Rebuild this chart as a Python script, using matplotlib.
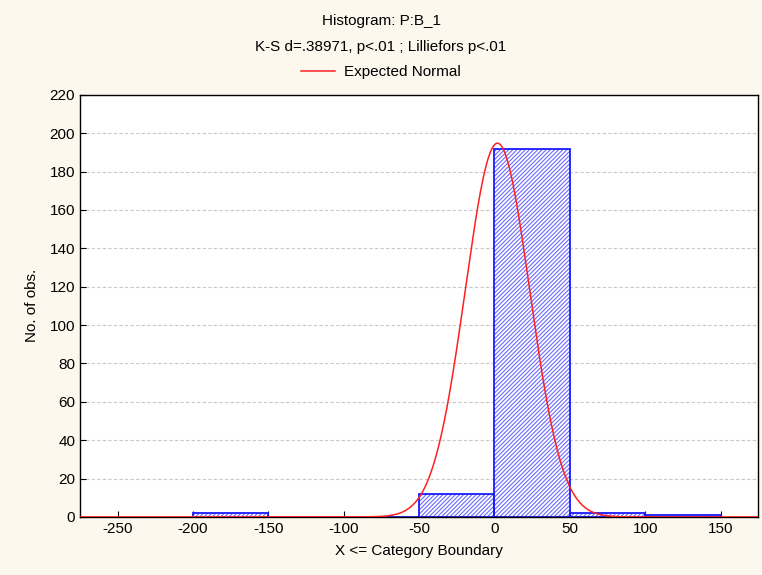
import numpy as np
import matplotlib
matplotlib.use("Agg")
import matplotlib.pyplot as plt

plt.rcParams['font.family'] = ['Liberation Sans', 'DejaVu Sans']
plt.rcParams['hatch.linewidth'] = 0.8
plt.rcParams['axes.unicode_minus'] = False

bin_left = [-200, -150, -100, -50, 0, 50, 100]
bin_width = 50
counts = [2, 0, 0, 12, 192, 2, 1]
normal_mean = 2.0
normal_sd = 21.4
n_total = 209

xticks = [-250, -200, -150, -100, -50, 0, 50, 100, 150]
yticks = list(range(0, 221, 20))

fig = plt.figure(figsize=(7.62, 5.75), dpi=100)
fig.patch.set_facecolor('#fdf8ee')
ax = fig.add_axes([0.105, 0.101, 0.89, 0.734])
ax.set_facecolor('white')

for yv in yticks[1:]:
    ax.axhline(yv, color='#c8c8c8', lw=0.8, ls=(0, (3, 2)), zorder=0)

# hatch layer
ax.bar(bin_left, counts, width=bin_width, align='edge', facecolor='white',
       edgecolor='#6a6aff', hatch='////////', linewidth=0, zorder=2)
# outline layer
ax.bar(bin_left, counts, width=bin_width, align='edge', facecolor='none',
       edgecolor='#1a1aff', linewidth=1.3, zorder=2.5)

xs = np.linspace(-275, 175, 800)
ys = n_total * bin_width / (normal_sd * np.sqrt(2 * np.pi)) * np.exp(-0.5 * ((xs - normal_mean) / normal_sd) ** 2)
line, = ax.plot(xs, ys, color='#ff2020', lw=1.1, zorder=3, label='Expected Normal')

ax.set_xlim(-275, 175)
ax.set_ylim(0, 220)
ax.set_xticks(xticks)
ax.set_yticks(yticks)
ax.tick_params(direction='in', length=4, labelsize=11, color='black')
for s in ax.spines.values():
    s.set_linewidth(1.0)
    s.set_color('black')

ax.set_xlabel('X <= Category Boundary', fontsize=11, labelpad=6)
ax.set_ylabel('No. of obs.', fontsize=11, labelpad=8)

fig.text(0.5, 1 - 21 / 575, 'Histogram: P:B_1', ha='center', va='center', fontsize=11)
fig.text(0.5, 1 - 47 / 575, 'K-S d=.38971, p<.01 ; Lilliefors p<.01', ha='center', va='center', fontsize=11)
fig.legend(handles=[line], loc='center', bbox_to_anchor=(0.5, 1 - 72 / 575), frameon=False,
           fontsize=11, handlelength=2.2, handletextpad=0.6)

fig.savefig('out.png', dpi=100, facecolor=fig.get_facecolor())
